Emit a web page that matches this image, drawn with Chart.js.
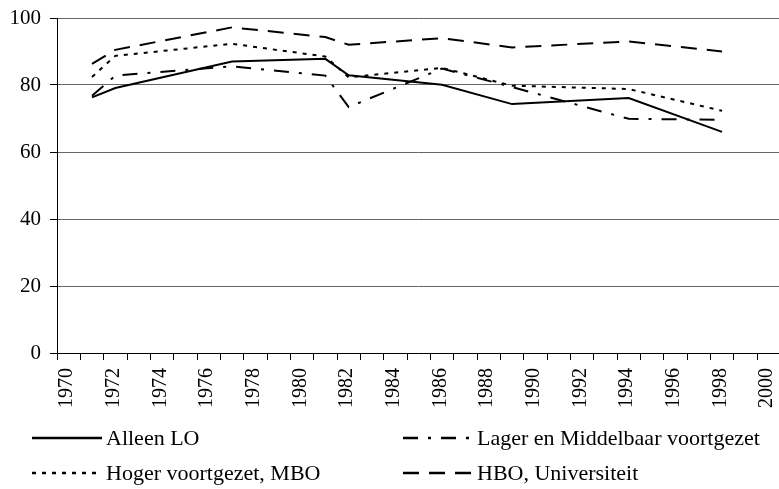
<!DOCTYPE html>
<html>
<head>
<meta charset="utf-8">
<script src="https://cdn.jsdelivr.net/npm/chart.js@4.4.0/dist/chart.umd.min.js"></script>
<style>
  html, body { margin: 0; padding: 0; background: #fff; }
  #wrap { width: 779px; height: 489px; position: relative; }
</style>
</head>
<body>
<div id="wrap"><canvas id="grafiek"></canvas></div>
<script>
// meetjaren (punten staan midden in het jaar)
const jaren = [1971, 1972, 1977, 1981, 1982, 1986, 1989, 1994, 1998];
const alleenLO = [76.3, 79.1, 87.0, 87.8, 82.9, 80.1, 74.3, 76.1, 66.0];
const lagerMiddelbaar = [76.8, 82.8, 85.6, 82.8, 73.4, 84.9, 79.4, 69.9, 69.6];
const hogerMBO = [82.4, 88.7, 92.3, 88.5, 82.3, 85.1, 79.8, 78.8, 72.3];
const hboUni = [86.3, 90.5, 97.2, 94.3, 92.0, 94.0, 91.2, 93.0, 90.0];
const labels = ["Alleen LO", "Lager en Middelbaar voortgezet", "Hoger voortgezet, MBO", "HBO, Universiteit"];
const yTicks = [0, 20, 40, 60, 80, 100];

const font = "'Liberation Serif', 'Times New Roman', serif";

const punten = (waarden) => waarden.map((v, i) => ({ x: jaren[i] + 0.5, y: v }));

// legenda onderaan in twee kolommen
const legendaPlugin = {
  id: "legenda",
  afterDraw(chart) {
    const ctx = chart.ctx;
    const posities = [
      { x: 32, y: 438 }, { x: 403, y: 438 },
      { x: 32, y: 473 }, { x: 403, y: 473 }
    ];
    chart.data.datasets.forEach((ds, i) => {
      const p = posities[i];
      ctx.save();
      ctx.strokeStyle = "#000";
      ctx.lineWidth = 2.5;
      ctx.setLineDash(ds.borderDash || []);
      ctx.beginPath();
      ctx.moveTo(p.x, p.y);
      ctx.lineTo(p.x + 70, p.y);
      ctx.stroke();
      ctx.setLineDash([]);
      ctx.fillStyle = "#000";
      ctx.font = "22px " + font;
      ctx.textBaseline = "middle";
      ctx.fillText(ds.label, p.x + 74, p.y + 1);
      ctx.restore();
    });
  }
};

new Chart(document.getElementById("grafiek"), {
  type: "line",
  data: {
    datasets: [
      { label: labels[0], data: punten(alleenLO), borderColor: "#000", borderWidth: 2, borderDash: [] },
      { label: labels[1], data: punten(lagerMiddelbaar), borderColor: "#000", borderWidth: 2, borderDash: [15, 10, 3, 10] },
      { label: labels[2], data: punten(hogerMBO), borderColor: "#000", borderWidth: 2, borderDash: [4, 6] },
      { label: labels[3], data: punten(hboUni), borderColor: "#000", borderWidth: 2, borderDash: [16, 10] }
    ]
  },
  options: {
    responsive: true,
    maintainAspectRatio: false,
    animation: false,
    elements: { point: { radius: 0 }, line: { tension: 0 } },
    layout: { padding: { top: 18, right: 0, bottom: 79, left: 0 } },
    plugins: { legend: { display: false }, tooltip: { enabled: false } },
    scales: {
      x: {
        type: "linear",
        min: 1970,
        max: 2000.94,
        border: { color: "#000", width: 1 },
        grid: { drawOnChartArea: false, tickLength: 7, color: "#000", tickColor: "#000" },
        afterFit: (scale) => {
          scale.height = 57;
          scale.paddingLeft = 0; scale.paddingRight = 0;
        },
        ticks: {
          stepSize: 1,
          includeBounds: false,
          autoSkip: false,
          maxRotation: 90,
          minRotation: 90,
          padding: 8,
          labelOffset: 10,
          color: "#000",
          font: { family: font, size: 20 },
          callback: (v) => (v % 2 === 0 ? String(v) : "")
        }
      },
      y: {
        min: yTicks[0],
        max: yTicks[yTicks.length - 1],
        border: { color: "#000", width: 1 },
        grid: { color: "#666", tickLength: 7, tickColor: "#000" },
        afterFit: (scale) => {
          scale.width = 57;
          scale.paddingTop = 0; scale.paddingBottom = 0;
        },
        afterBuildTicks: (scale) => { scale.ticks = yTicks.map(v => ({ value: v })); },
        ticks: {
          padding: 9,
          color: "#000",
          font: { family: font, size: 21 }
        }
      }
    }
  },
  plugins: [legendaPlugin]
});
</script>
</body>
</html>
